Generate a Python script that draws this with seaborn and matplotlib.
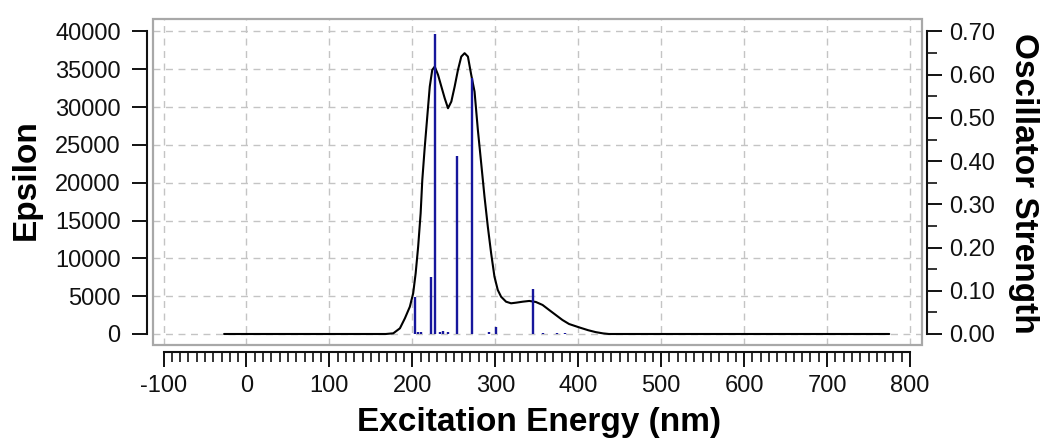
import numpy as np
import pandas as pd
import matplotlib
matplotlib.use("Agg")
import matplotlib.pyplot as plt
import seaborn as sns
from matplotlib.ticker import FixedLocator, FormatStrFormatter
from matplotlib.patches import Rectangle

# ---- data ----
curve_nm = [-27, 168, 177, 185, 191, 197, 201, 204, 207, 210,
            212, 215, 218, 221, 224, 227, 231, 235, 239, 243,
            247, 251, 255, 259, 263, 267, 271, 275, 279, 283,
            287, 291, 295, 299, 303, 307, 313, 319, 325, 333,
            341, 349, 357, 365, 373, 381, 389, 401, 412, 421,
            430, 437, 775]
curve_eps = [0, 0, 90, 750, 2070, 3610, 5380, 8030, 11550, 15960,
             20370, 24780, 28750, 32710, 34920, 35360, 34260, 32710, 31180, 29850,
             30730, 32710, 34920, 36680, 37130, 36680, 34260, 32050, 26980, 22580,
             18160, 14190, 10670, 7580, 5820, 4930, 4270, 4060, 4140, 4270,
             4370, 4230, 3840, 3170, 2510, 1850, 1320, 880, 500, 250,
             80, 0, 0]
stick_nm = [203, 207, 210, 222, 227, 233, 237, 243, 254, 272, 293, 301, 345, 357, 374, 384]
stick_f = [0.086, 0.004, 0.004, 0.133, 0.694, 0.005, 0.006, 0.004, 0.412, 0.593,
           0.004, 0.017, 0.104, 0.003, 0.003, 0.003]
x_ticks = [-100, 0, 100, 200, 300, 400, 500, 600, 700, 800]
y_ticks = [0, 5000, 10000, 15000, 20000, 25000, 30000, 35000, 40000]
f_ticks = [0.0, 0.1, 0.2, 0.3, 0.4, 0.5, 0.6, 0.7]

sns.set_style("white")
plt.rcParams['font.family'] = ['Liberation Sans', 'DejaVu Sans']
plt.rcParams['axes.unicode_minus'] = False
plt.rcParams['text.color'] = 'black'
plt.rcParams['axes.labelcolor'] = 'black'

W, H = 1041, 445
fig = plt.figure(figsize=(W / 100, H / 100), dpi=100)
L, R, T, B = 153, 922, 19, 345
ax = fig.add_axes([L / W, 1 - B / H, (R - L) / W, (B - T) / H])
ax2 = ax.twinx()

df = pd.DataFrame({"nm": curve_nm, "eps": curve_eps})
sns.lineplot(data=df, x="nm", y="eps", ax=ax, color="black", lw=1.5,
             sort=False, zorder=3)
ax2.vlines(stick_nm, 0, stick_f, color="#16169c", lw=1.7, zorder=4)

ax.set_xlim(-112.7, 814.5)
ax.set_ylim(-1455, 41650)
ax2.set_ylim(-1455 * 0.7 / 40000, 41650 * 0.7 / 40000)

# grid
ax.set_xticks(x_ticks)
ax.set_yticks(y_ticks)
ax.grid(True, ls=(0, (5, 4)), color="#c4c4c4", lw=1.0)
ax.set_axisbelow(True)
ax2.grid(False)

# frame
ax.add_patch(Rectangle((0, 0), 1, 1, transform=ax.transAxes, fill=False,
                       ec="#a8a8a8", lw=1.6, clip_on=False, zorder=5))

spc = "#111111"
for s in ["top", "right"]:
    ax.spines[s].set_visible(False)
for s in ["top", "left", "bottom"]:
    ax2.spines[s].set_visible(False)
ax.spines["left"].set_position(("outward", 4.3))
ax.spines["left"].set_bounds(0, 40000)
ax.spines["bottom"].set_position(("outward", 4.8))
ax.spines["bottom"].set_bounds(-100, 800)
ax2.spines["right"].set_position(("outward", 3.4))
ax2.spines["right"].set_bounds(0, 0.7)
for sp in [ax.spines["left"], ax.spines["bottom"], ax2.spines["right"]]:
    sp.set_visible(True)
    sp.set_color(spc)
    sp.set_linewidth(1.5)

ax.xaxis.set_minor_locator(FixedLocator([v for v in range(-100, 801, 10) if v % 100]))
ax.tick_params(axis="x", which="major", bottom=True, direction="out", length=11,
               width=1.4, pad=6, labelsize=17, colors=spc)
ax.tick_params(axis="x", which="minor", bottom=True, direction="out", length=7,
               width=1.2, colors=spc)
ax.tick_params(axis="y", which="major", left=True, direction="out", length=11,
               width=1.4, pad=8, labelsize=17, colors=spc)

ax2.set_yticks(f_ticks)
ax2.yaxis.set_major_formatter(FormatStrFormatter("%.2f"))
ax2.yaxis.set_minor_locator(FixedLocator([0.05, 0.15, 0.25, 0.35, 0.45, 0.55, 0.65]))
ax2.tick_params(axis="y", which="major", right=True, direction="out", length=11,
                width=1.4, pad=5, labelsize=17, colors=spc)
ax2.tick_params(axis="y", which="minor", right=True, direction="out", length=7,
                width=1.2, colors=spc)

ax.set_xlabel("Excitation Energy (nm)", fontsize=24, fontweight="bold", va="center")
ax.xaxis.set_label_coords((539 - L) / (R - L), (B - 422) / (B - T))
ax.set_ylabel("Epsilon", fontsize=24, fontweight="bold", va="center", ha="center")
ax.yaxis.set_label_coords((26 - L) / (R - L), (B - 180) / (B - T))
ax2.set_ylabel("Oscillator Strength", fontsize=24, fontweight="bold", rotation=270,
               va="center", ha="center")
ax2.yaxis.set_label_coords((1024 - L) / (R - L), (B - 183) / (B - T))

fig.savefig("out.png", dpi=100)
